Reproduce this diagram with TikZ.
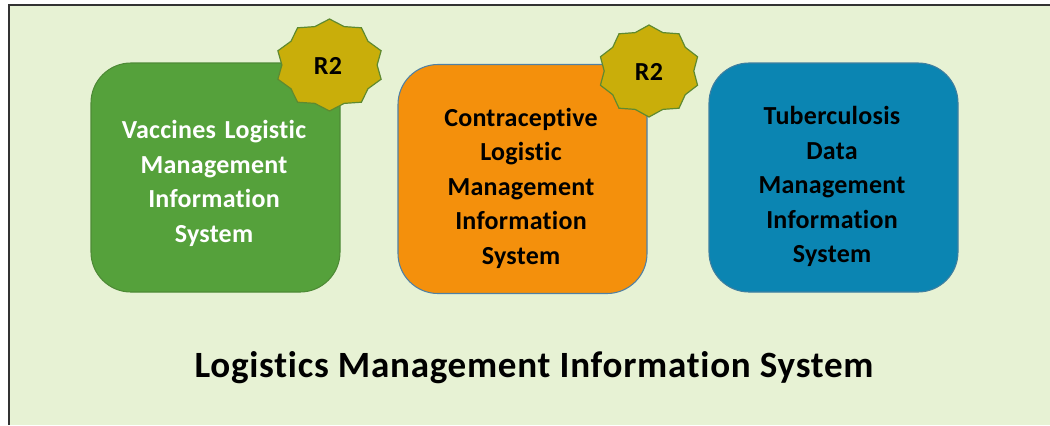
\documentclass[tikz,border=0pt]{standalone}
\usepackage{fontspec}
\setmainfont[RawFeature=-liga]{Carlito}
\newfontface\boxface[RawFeature=-liga,LetterSpace=1]{Carlito Bold}
\newfontface\titleface[RawFeature=-liga,LetterSpace=2]{Carlito Bold}
\usetikzlibrary{shapes.geometric}
\definecolor{bgc}{HTML}{E7F2D4}
\definecolor{greenc}{HTML}{55A13B}
\definecolor{greenb}{HTML}{4E8A36}
\definecolor{orangec}{HTML}{F4900C}
\definecolor{orangeb}{HTML}{4F81A5}
\definecolor{bluec}{HTML}{0B85B2}
\definecolor{blueb}{HTML}{3F7FA0}
\definecolor{starc}{HTML}{C9AE0A}
\definecolor{starb}{HTML}{5F8A30}
\tikzset{
  box/.style={rounded corners=30pt,line width=0.8pt,minimum width=186.75pt,minimum height=171.75pt,inner sep=0pt},
  boxtext/.style={inner sep=0pt,text width=186pt,align=center,font=\boxface\fontsize{19.5pt}{25.9pt}\selectfont},
  badge/.style={star,star points=10,star point ratio=1.14,fill=starc,draw=starb,line width=0.9pt,minimum size=69pt,inner sep=0pt},
  badgetext/.style={font=\boxface\fontsize{19.5pt}{20pt}\selectfont,text=black,inner sep=0pt},
  titlec/.style={font=\titleface\fontsize{27.8pt}{30pt}\selectfont,text=black,inner sep=0pt}
}
\begin{document}
\begin{tikzpicture}[x=0.75pt,y=-0.75pt]
\useasboundingbox (0,0) rectangle (1050,425);
\fill[white] (0,0) rectangle (1050,425);
\fill[bgc] (8,5) rectangle (1050,425);
\draw[line width=1.5pt,draw=black!80] (8.5,425) -- (8.5,5) -- (1050,5);
\node[box,fill=greenc,draw=greenb] (vac) at (215.5,177.5) {};
\node[box,fill=orangec,draw=orangeb] (con) at (522.5,179) {};
\node[box,fill=bluec,draw=blueb] (tub) at (833.5,177.5) {};
\node[boxtext,text=white] (vact) at (214,183.5) {Vaccines Logistic\\Management\\Information\\System};
\node[boxtext,text=black] (cont) at (521,188) {Contraceptive\\Logistic\\Management\\Information\\System};
\node[boxtext,text=black] (tubt) at (832,186.5) {Tuberculosis\\Data\\Management\\Information\\System};
\begin{scope}[shift={(329.5,65)},xscale=1.18]
\node[badge,transform shape] (s1) at (0,0) {};
\end{scope}
\begin{scope}[shift={(649,71)},xscale=1.11]
\node[badge,transform shape] (s2) at (0,0) {};
\end{scope}
\node[badgetext] (r1) at (328,66) {R2};
\node[badgetext] (r2) at (649,72) {R2};
\node[titlec] (title) at (534,368) {Logistics Management Information System};
\end{tikzpicture}
\end{document}
